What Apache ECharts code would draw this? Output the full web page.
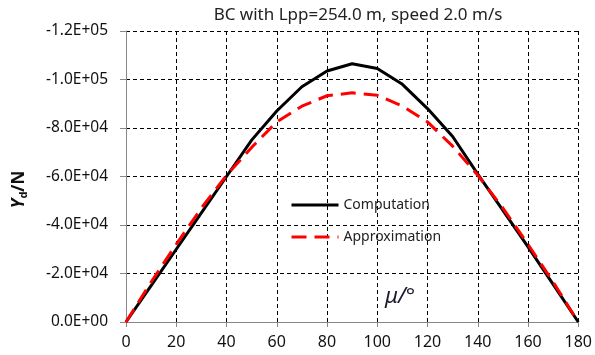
<!DOCTYPE html>
<html>
<head>
<meta charset="utf-8">
<script src="https://cdn.jsdelivr.net/npm/echarts@6/dist/echarts.min.js"></script>
<style>html,body{margin:0;padding:0;background:#fff}#c{width:595px;height:355px}</style>
</head>
<body>
<div id="c"></div>
<script>
const titleText = 'BC with Lpp=254.0 m, speed 2.0 m/s';
const mu = [0, 10, 20, 30, 40, 50, 60, 70, 80, 90, 100, 110, 120, 130, 140, 150, 160, 170, 180];
const computation = [0, -15000, -30000, -45000, -60000, -75000, -87000, -97000, -103500, -106500, -104500, -98000, -88000, -76500, -61000, -46000, -31000, -15500, 0];
const approximation = [0, -16500, -32000, -47000, -60500, -72000, -82500, -89000, -93300, -94500, -93500, -89000, -82500, -72500, -60500, -47000, -32000, -16500, 0];
const seriesNames = ['Computation', 'Approximation'];
const xTicks = [0, 20, 40, 60, 80, 100, 120, 140, 160, 180];
const yTicks = [0, -20000, -40000, -60000, -80000, -100000, -120000];

function sci(v) {
  if (v === 0) return '0.0E+00';
  const e = Math.floor(Math.log10(Math.abs(v)) + 1e-9);
  const m = v / Math.pow(10, e);
  const es = (e >= 0 ? '+' : '-') + String(Math.abs(e)).padStart(2, '0');
  return m.toFixed(1) + 'E' + es;
}

const font = 'Noto Sans';
const chart = echarts.init(document.getElementById('c'), null, {renderer: 'canvas'});
chart.setOption({
  backgroundColor: '#fff',
  animation: false,
  title: {
    text: titleText,
    left: 353, top: 2, textAlign: 'center',
    textStyle: {fontFamily: font, fontSize: 17, fontWeight: 'normal', color: '#222'}
  },
  grid: {left: 126, right: 14, top: 31, bottom: 33},
  legend: {
    data: seriesNames,
    orient: 'vertical',
    left: 285, top: 193,
    itemWidth: 47, itemHeight: 14, itemGap: 18,
    itemStyle: {opacity: 0},
    lineStyle: {width: 3},
    textStyle: {fontFamily: font, fontSize: 14, color: '#222'},
    backgroundColor: 'transparent'
  },
  xAxis: {
    type: 'value',
    min: xTicks[0], max: xTicks[xTicks.length - 1], interval: 20,
    axisLine: {show: true, onZero: false, lineStyle: {color: '#888', width: 1}},
    axisTick: {show: true, length: 5, lineStyle: {color: '#888'}},
    axisLabel: {fontFamily: font, fontSize: 16, color: '#111', margin: 12},
    splitLine: {show: true, lineStyle: {color: '#000', type: [4, 3], width: 1}}
  },
  yAxis: {
    type: 'value',
    inverse: true,
    min: yTicks[yTicks.length - 1], max: yTicks[0], interval: 20000,
    axisLine: {show: true, onZero: false, lineStyle: {color: '#888', width: 1}},
    axisTick: {show: true, length: 6, lineStyle: {color: '#888'}},
    axisLabel: {fontFamily: font, fontSize: 15.5, color: '#111', margin: 18, formatter: sci},
    splitLine: {show: true, lineStyle: {color: '#000', type: [4, 3], width: 1}},
    name: '{i|Y}{s|d}{n|/N}',
    nameLocation: 'middle',
    nameRotate: 90,
    nameGap: 97,
    nameTextStyle: {
      padding: [0, 26, 0, 0],
      rich: {
        i: {fontFamily: font, fontSize: 17, fontStyle: 'italic', fontWeight: 'bold', color: '#111'},
        s: {fontFamily: font, fontSize: 11, fontWeight: 'bold', color: '#111', padding: [8, 0, 0, 0]},
        n: {fontFamily: font, fontSize: 17, fontWeight: 'bold', color: '#111'}
      }
    }
  },
  graphic: [{
    type: 'text', left: 385, top: 286,
    style: {text: 'μ/°', font: 'italic 22px "Noto Sans"', fill: '#1a1a2e'}
  }],
  series: [
    {
      name: seriesNames[0], type: 'line', showSymbol: false, symbol: 'none',
      data: mu.map((m, i) => [m, computation[i]]),
      lineStyle: {color: '#000', width: 3}, itemStyle: {color: '#000'}, z: 3
    },
    {
      name: seriesNames[1], type: 'line', showSymbol: false, symbol: 'none',
      data: mu.map((m, i) => [m, approximation[i]]),
      lineStyle: {color: '#ff0000', width: 3, type: [15, 8]}, itemStyle: {color: '#ff0000'}, z: 4
    }
  ]
});
</script>
</body>
</html>
